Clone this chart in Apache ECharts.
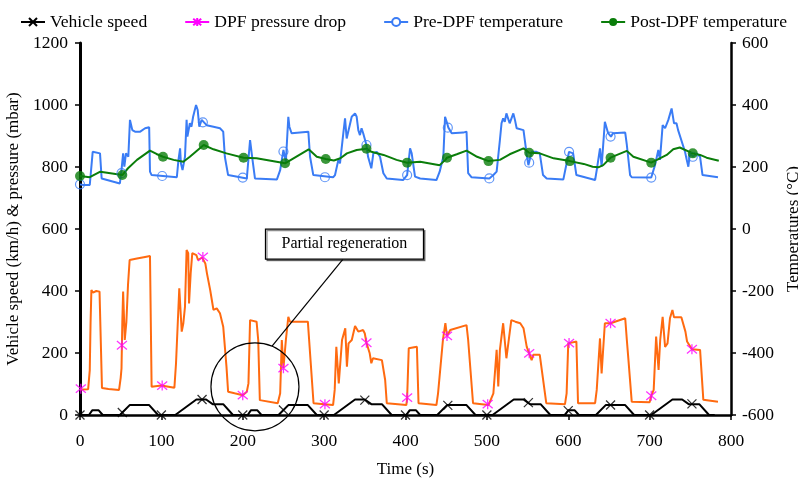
<!DOCTYPE html>
<html>
<head>
<meta charset="utf-8">
<script src="https://cdn.jsdelivr.net/npm/echarts@6/dist/echarts.min.js"></script>
<style>
  html, body { margin: 0; padding: 0; background: #fff; }
  #chart { width: 798px; height: 483px; }
</style>
</head>
<body>
<div id="chart"></div>
<script>
// ECE-15 urban cycle, four repeats (time s, km/h)
var speedData = [
  [0,0],[11,0],[15,15],[23,15],[28,0],[49,0],[61,32],[85,32],[96,0],[117,0],[143,50],[155,50],[163,35],[176,35],[188,0],[195,0],
  [206,0],[210,15],[218,15],[223,0],[244,0],[256,32],[280,32],[291,0],[312,0],[338,50],[350,50],[358,35],[371,35],[383,0],[390,0],
  [401,0],[405,15],[413,15],[418,0],[439,0],[451,32],[475,32],[486,0],[507,0],[533,50],[545,50],[553,35],[566,35],[578,0],[585,0],
  [596,0],[600,15],[608,15],[613,0],[634,0],[646,32],[670,32],[681,0],[702,0],[728,50],[740,50],[748,35],[761,35],[773,0],[780,0]
];
var speedMarks = [[0,0],[52,8],[100,0],[150,50],[200,0],[250,16],[300,0],[350,48],[400,0],[452,31],[500,0],[551,40],[600,14],[652,32],[700,0],[752,36]];

// DPF pressure drop (mbar)
var pressureData = [
  [0,82],[2,81],[10,83],[12,145],[13,300],[14,403],[16,395],[20,400],[24,398],[25,395],[27,87],[35,84],[48,81],[50,120],[51,150],[52,300],[53,398],[55,242],[57,300],[59,420],[61,500],[70,505],[80,510],[86,513],[88,91],[100,95],[116,88],
  [118,167],[120,167],[122,409],[124,403],[125,269],[127,296],[129,349],[131,532],[133,522],[134,360],[136,457],[138,522],[140,527],[143,516],[145,500],[150,508],[154,489],[156,457],[160,403],[162,371],[164,339],[168,344],[172,328],[176,285],[180,156],[182,75],[190,70],[200,64],
  [205,75],[207,102],[209,306],[217,301],[219,242],[221,48],[243,38],[246,70],[248,242],[250,151],[253,242],[256,317],[258,301],[280,301],[287,38],[300,35],[311,32],
  [313,81],[315,220],[318,102],[322,242],[326,280],[328,156],[330,231],[334,242],[338,287],[342,269],[348,274],[350,263],[352,233],[356,199],[358,167],[360,183],[371,177],[375,113],[377,38],[401,32],
  [402,54],[404,215],[414,220],[416,38],[438,32],[440,70],[446,242],[449,296],[451,255],[455,274],[475,290],[477,242],[483,38],[502,32],
  [508,70],[512,210],[514,92],[516,210],[520,296],[524,183],[530,306],[535,301],[541,296],[545,280],[549,220],[552,199],[555,177],[557,194],[565,194],[573,38],[596,35],
  [598,70],[600,231],[610,237],[612,38],[633,38],[635,81],[639,247],[641,134],[643,140],[645,296],[652,296],[670,312],[672,242],[674,177],[678,43],[700,41],
  [702,62],[705,81],[708,253],[711,145],[713,242],[716,317],[719,220],[722,231],[725,312],[728,339],[730,315],[739,315],[744,269],[746,237],[752,212],[762,210],[766,49],[784,43]
];
var pressureMarks = [[1,85],[51.5,225],[101,95],[151,510],[200,64],[250,151],[301,35],[352,233],[402,56],[451,255],[501,35],[552,199],[601,232],[652,296],[702,62],[752,212]];

// Pre-DPF temperature (degC)
var preData = [
  [0,144],[4,142],[12,142],[14,147],[15.6,249],[18,253],[24.6,244],[26.6,163],[29,158],[49,147],[51,190],[53,244],[54.5,201],[56.5,244],[59.4,233],[61.4,352],[62.7,357],[64.3,319],[67.6,314],[74,314],[80,325],[85,328],[86,185],[88,174],[102,171],[119,167],
  [121,223],[123,260],[124,212],[126,190],[129,233],[131,352],[132,298],[135,341],[137,330],[139,362],[142.6,400],[144.6,384],[146.6,330],[149.5,352],[155.6,335],[164,330],[172,325],[176,314],[178,233],[182,174],[205,163],
  [209,287],[210,289],[212,223],[215,163],[242,160],[246,190],[250,255],[253,217],[256,362],[257.3,330],[260,309],[280.6,314],[282.7,233],[286.7,174],[311,167],
  [313.4,174],[317.5,223],[319.5,212],[323.6,309],[325.7,357],[327.7,292],[329.8,298],[333.9,362],[338,373],[340,362],[342,319],[344,303],[346,325],[348,309],[350,314],[352,271],[354,233],[356,239],[358,196],[360.5,244],[364.6,249],[368.7,233],[372.8,180],[377,163],[397,158],
  [402,174],[405.6,260],[407.6,244],[411.7,169],[418,163],[438,158],[442,185],[446.5,233],[448.6,362],[450.6,346],[452.7,327],[456.8,309],[471,311],[475,314],[477,180],[481,167],[503,163],
  [508,174],[512,185],[516,287],[518,341],[520,357],[522,346],[524,373],[528,341],[532.5,373],[534.5,352],[536.6,325],[545,319],[549,239],[551,206],[555,249],[561,249],[565,244],[569,174],[573.5,163],[594,160],
  [598,212],[601,249],[606,244],[610,174],[633,158],[635,190],[639,260],[641,201],[645,346],[647,341],[649,309],[652.5,298],[655,309],[670,311],[672,271],[676,174],[678,167],[702,166],
  [706.6,206],[710.7,255],[712.7,223],[716,335],[719,325],[723,352],[727,389],[730,341],[733,341],[735,319],[743.5,249],[745.6,223],[747.6,201],[749.7,249],[753,233],[758,244],[762,233],[765,174],[784,167]
];
var preMarks = [[0,144],[51,180],[101,171],[151,344],[200,166],[250,250],[301,167],[352,271],[402,174],[452,327],[503,163],[552,214],[601,249],[652,298],[702,166],[753,233]];

// Post-DPF temperature (degC)
var postData = [
  [0,171],[12,167],[25,185],[52,174],[59,196],[70,223],[86,253],[94,242],[102,233],[115,223],[127,217],[135,233],[152,271],[164,257],[180,244],[201,230],[217,228],[252,212],[281,257],[291,233],[302,226],[312,221],
  [320,228],[328,244],[340,255],[352,259],[358,249],[373,239],[389,223],[402,214],[418,217],[442,206],[449,223],[451,230],[463,241],[475,253],[488,233],[502,219],[516,223],[528,241],[545,260],[552,246],[565,244],[582,228],
  [602,219],[619,210],[630,201],[637,199],[643,206],[652,230],[660,239],[672,252],[680,233],[702,214],[709,223],[721,239],[729,257],[737,263],[753,244],[762,239],[770,230],[785,220]
];
var postMarks = [[0,171],[52,174],[102,233],[152,271],[201,230],[252,212],[302,226],[352,259],[402,214],[451,230],[502,219],[552,246],[602,219],[652,230],[702,214],[753,244]];

var FONT = 'Liberation Serif';
var crossPath = 'path://M0,0L10,10M10,0L0,10';
var starPath = 'path://M5,-1L5,11M0,0L10,10M10,0L0,10';

var chart = echarts.init(document.getElementById('chart'));

function plain(v) { return String(v); }

function axisStyle(extra) {
  return Object.assign({
    splitLine: { show: false },
    axisLine: { show: true, onZero: false, lineStyle: { color: '#000', width: 2.5 } },
    axisTick: { show: true, inside: false, length: 5, lineStyle: { color: '#000', width: 1.5 } },
    nameTextStyle: { color: '#000', fontFamily: FONT, fontSize: 17 },
    nameLocation: 'middle'
  }, extra);
}

var option = {
  animation: false,
  backgroundColor: '#fff',
  grid: { left: 80, right: 67, top: 43, bottom: 68, containLabel: false, outerBoundsMode: 'none' },
  legend: {
    top: 8, left: 15, width: 783,
    itemWidth: 24, itemHeight: 10, itemGap: 37,
    textStyle: { color: '#000', fontFamily: FONT, fontSize: 17.6 },
    data: [
      { name: 'Vehicle speed' },
      { name: 'DPF pressure drop', lineStyle: { color: '#ff00ff' } },
      { name: 'Pre-DPF temperature' },
      { name: 'Post-DPF temperature' }
    ]
  },
  xAxis: axisStyle({
    type: 'value', min: 0, max: 800, interval: 100,
    name: 'Time (s)', nameGap: 46,
    axisLabel: { color: '#000', fontFamily: FONT, fontSize: 17.5, margin: 17, formatter: plain }
  }),
  yAxis: [
    axisStyle({
      type: 'value', min: 0, max: 1200, interval: 200, position: 'left',
      name: 'Vehicle speed (km/h) & pressure (mbar)', nameGap: 57, nameRotate: 90,
      axisLine: { show: true, onZero: false, lineStyle: { color: '#000', width: 3 } },
      axisLabel: { color: '#000', fontFamily: FONT, fontSize: 17.5, margin: 12, formatter: plain }
    }),
    axisStyle({
      type: 'value', min: -600, max: 600, interval: 200, position: 'right',
      name: 'Temperatures (°C)', nameGap: 54, nameRotate: 90,
      axisLabel: { color: '#000', fontFamily: FONT, fontSize: 17.5, margin: 11, formatter: plain }
    })
  ],
  series: [
    {
      name: 'DPF pressure drop', type: 'line', yAxisIndex: 0, data: pressureData,
      showSymbol: false, symbol: starPath, symbolSize: 10,
      lineStyle: { color: '#ff6a10', width: 2 },
      itemStyle: { color: '#ff00ff', borderColor: '#ff00ff', borderWidth: 1.5 }
    },
    {
      name: 'Pre-DPF temperature', type: 'line', yAxisIndex: 1, data: preData,
      showSymbol: false, symbol: 'emptyCircle', symbolSize: 9,
      lineStyle: { color: '#3a7cf5', width: 2 },
      itemStyle: { color: '#3a7cf5' }
    },
    {
      name: 'Post-DPF temperature', type: 'line', yAxisIndex: 1, data: postData,
      showSymbol: false, symbol: 'circle', symbolSize: 9,
      lineStyle: { color: '#0a7d0a', width: 2 },
      itemStyle: { color: '#0a7d0a' }
    },
    {
      name: 'Vehicle speed', type: 'line', yAxisIndex: 0, data: speedData,
      showSymbol: false, symbol: crossPath, symbolSize: 9,
      lineStyle: { color: '#000', width: 2 },
      itemStyle: { color: '#000', borderColor: '#000', borderWidth: 1.5 }
    },
    {
      name: 'pressureMarks', type: 'scatter', yAxisIndex: 0, data: pressureMarks,
      symbol: starPath, symbolSize: 10, z: 5,
      itemStyle: { color: '#ff00ff', borderColor: '#ff00ff', borderWidth: 1.3 }
    },
    {
      name: 'preMarks', type: 'scatter', yAxisIndex: 1, data: preMarks,
      symbol: 'circle', symbolSize: 9, z: 5,
      itemStyle: { color: 'rgba(255,255,255,0)', borderColor: '#3a7cf5', borderWidth: 1.2 }
    },
    {
      name: 'postMarks', type: 'scatter', yAxisIndex: 1, data: postMarks,
      symbol: 'circle', symbolSize: 10, z: 5,
      itemStyle: { color: '#0a7d0a' }
    },
    {
      name: 'speedMarks', type: 'scatter', yAxisIndex: 0, data: speedMarks,
      symbol: crossPath, symbolSize: 9, z: 5,
      itemStyle: { color: '#000', borderColor: '#000', borderWidth: 1.3 }
    }
  ]
};

chart.setOption(option);

// "Partial regeneration" callout, anchored in data coordinates
var toPx = function (p) { return chart.convertToPixel({ seriesIndex: 0 }, p); };
var circleC = toPx([215, 91]);
var lineFrom = toPx([236, 222]);
var lineTo = toPx([323, 502]);
var boxC = toPx([325, 551]);
var boxW = 158, boxH = 30;

chart.setOption({
  graphic: [
    {
      type: 'circle', z: 100,
      shape: { cx: circleC[0], cy: circleC[1], r: 44 },
      style: { fill: 'none', stroke: '#000', lineWidth: 1.2 }
    },
    {
      type: 'line', z: 100,
      shape: { x1: lineFrom[0], y1: lineFrom[1], x2: lineTo[0], y2: lineTo[1] },
      style: { stroke: '#000', lineWidth: 1.2 }
    },
    {
      type: 'rect', z: 100,
      shape: { x: boxC[0] - boxW / 2, y: boxC[1] - boxH / 2, width: boxW, height: boxH },
      style: { fill: '#fff', stroke: '#000', lineWidth: 1.2, shadowColor: 'rgba(0,0,0,0.45)', shadowOffsetX: 1.5, shadowOffsetY: 1.5 }
    },
    {
      type: 'text', z: 101,
      x: boxC[0], y: boxC[1],
      style: { text: 'Partial regeneration', fill: '#000', font: '16px "Liberation Serif"', align: 'center', verticalAlign: 'middle' }
    }
  ]
});
</script>
</body>
</html>
